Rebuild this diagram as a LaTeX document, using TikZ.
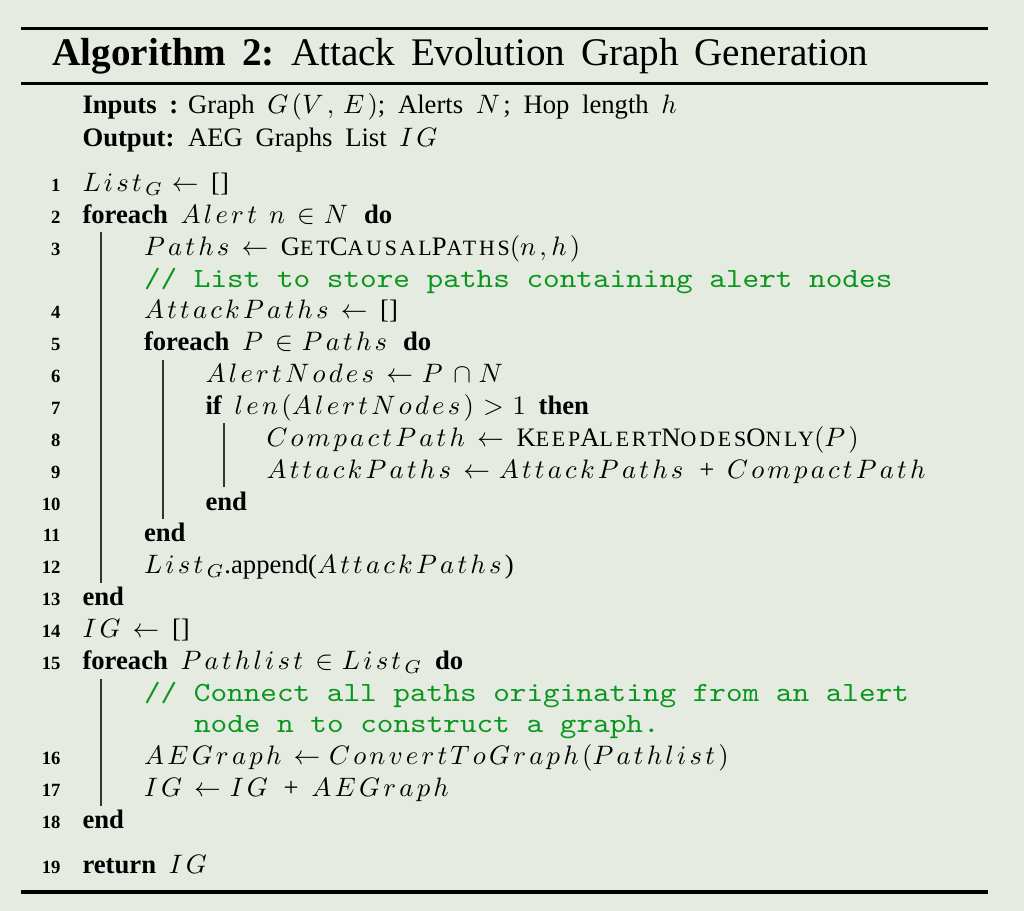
\documentclass[tikz,border=0pt]{standalone}
\usepackage[no-math]{fontspec}
\setmainfont{Liberation Serif}[WordSpace=1.9]
\newfontfamily\ttlfont{Liberation Serif}[WordSpace=1.6]
\newfontfamily\cmtfont{lmmono10-regular.otf}[FakeStretch=1.14]
\newfontfamily\scfont{Liberation Serif}[LetterSpace=13]
\definecolor{bgc}{RGB}{230,235,225}
\definecolor{cgreen}{RGB}{10,150,30}
\newcommand\fsc[1]{{\fontsize{8.2}{9}\selectfont #1}}
\makeatletter
\def\V#1{\V@a#1\@nil}
\def\V@a#1{\ifx#1\@nil\else#1\mkern2.2mu\expandafter\V@a\fi}
\makeatother
\medmuskip=5mu plus 2mu minus 4mu
\thickmuskip=6mu plus 5mu
\begin{document}
\begin{tikzpicture}[x=0.375pt,y=-0.375pt,
  txt/.style={anchor=base west,inner sep=0pt,font=\fontsize{10}{12}\selectfont},
  ttl/.style={anchor=base west,inner sep=0pt,font=\fontsize{14.68}{18}\selectfont\ttlfont},
  num/.style={anchor=base east,inner sep=0pt,font=\fontsize{7}{8}\selectfont\bfseries},
  cmt/.style={anchor=base west,inner sep=0pt,font=\fontsize{10.42}{12}\selectfont\cmtfont,text=cgreen},
  vbar/.style={draw=black!80,line width=0.6pt},
  toprule/.style={draw=black,line width=1.1pt},
  midrule/.style={draw=black,line width=0.8pt},
  botrule/.style={draw=black,line width=1.2pt}]
\fill[bgc] (0,0) rectangle (1024,911);
\useasboundingbox (0,0) rectangle (1024,911);
% rules
\coordinate (tl) at (21,28.5); \coordinate (tr) at (988,28.5);
\coordinate (ml) at (21,83.5); \coordinate (mr) at (988,83.5);
\coordinate (bl) at (21,892); \coordinate (br) at (988,892);
\draw[toprule] (tl) -- (tr);
\draw[midrule] (ml) -- (mr);
\draw[botrule] (bl) -- (br);
% title
\node[ttl] (title) at (52,65) {\textbf{Algorithm 2:}\hspace{-1pt} Attack Evolution Graph Generation};
\node[txt] (inputs) at (82,113.3) {\makebox[39.6pt][l]{\textbf{Inputs :}}Graph $\V{G}(\V{V},\mkern3mu\V{E})$; Alerts $\V{N}$; Hop length $\V{h}$};
\node[txt] (output) at (82,146.7) {\makebox[39.6pt][l]{\textbf{Output:}}AEG Graphs List $\V{IG}$};
% line numbers
\node[num] (n1) at (61,191.5) {1};
\node[num] (n2) at (61,223.35) {2};
\node[num] (n3) at (61,255.2) {3};
\node[num] (n4) at (61,318.9) {4};
\node[num] (n5) at (61,350.75) {5};
\node[num] (n6) at (61,382.6) {6};
\node[num] (n7) at (61,414.45) {7};
\node[num] (n8) at (61,446.3) {8};
\node[num] (n9) at (61,478.15) {9};
\node[num] (n10) at (61,510) {10};
\node[num] (n11) at (61,541.85) {11};
\node[num] (n12) at (61,573.7) {12};
\node[num] (n13) at (61,605.55) {13};
\node[num] (n14) at (61,637.4) {14};
\node[num] (n15) at (61,669.25) {15};
\node[num] (n16) at (61,764.8) {16};
\node[num] (n17) at (61,796.65) {17};
\node[num] (n18) at (61,828.5) {18};
\node[num] (n19) at (61,873.3) {19};
% lines
\node[txt] (l1) at (82,191.5) {$\V{List}_G \leftarrow$ []};
\node[txt] (l2) at (82,223.35) {\textbf{foreach} $\V{Alert}\mkern6mu\V{n} \in \V{N}$ \textbf{do}};
\node[txt] (l3) at (143.5,255.2) {$\V{Paths} \leftarrow$ {\scfont G\fsc{ET}C\fsc{AUSAL}P\fsc{ATHS}}$(\V{n},\V{h})$};
\node[cmt] (c1) at (143.5,287.05) {// List to store paths containing alert nodes};
\node[txt] (l4) at (143.5,318.9) {$\V{AttackPaths} \leftarrow$ []};
\node[txt] (l5) at (143.5,350.75) {\textbf{foreach} $\V{P} \in \V{Paths}$ \textbf{do}};
\node[txt] (l6) at (205,382.6) {$\V{AlertNodes} \leftarrow \V{P} \cap \V{N}$};
\node[txt] (l7) at (205,414.45) {\textbf{if} $\V{len}(\V{AlertNodes}) > 1$ \textbf{then}};
\node[txt] (l8) at (266,446.3) {$\V{CompactPath} \leftarrow$ {\scfont K\fsc{EEP}A\fsc{LERT}N\fsc{ODES}O\fsc{NLY}}$(\V{P})$};
\node[txt] (l9) at (266,478.15) {$\V{AttackPaths} \leftarrow \V{AttackPaths}$ + $\V{CompactPath}$};
\node[txt] (l10) at (205,510) {\textbf{end}};
\node[txt] (l11) at (143.5,541.85) {\textbf{end}};
\node[txt] (l12) at (143.5,573.7) {$\V{List}_G$.append($\V{AttackPaths}$)};
\node[txt] (l13) at (82,605.55) {\textbf{end}};
\node[txt] (l14) at (82,637.4) {$\V{IG} \leftarrow$ []};
\node[txt] (l15) at (82,669.25) {\textbf{foreach} $\V{Pathlist} \in \V{List}_G$ \textbf{do}};
\node[cmt] (c2) at (143.5,701.1) {// Connect all paths originating from an alert};
\node[cmt] (c3) at (193.5,732.95) {node n to construct a graph.};
\node[txt] (l16) at (143.5,764.8) {$\V{AEGraph} \leftarrow \V{ConvertToGraph}(\V{Pathlist})$};
\node[txt] (l17) at (143.5,796.65) {$\V{IG} \leftarrow \V{IG}$ + $\V{AEGraph}$};
\node[txt] (l18) at (82,828.5) {\textbf{end}};
\node[txt] (l19) at (82,873.3) {\textbf{return} $\V{IG}$};
% block bars
\coordinate (b1s) at (101,231.7); \coordinate (b1e) at (101,582.7);
\coordinate (b2s) at (163,360); \coordinate (b2e) at (163,519);
\coordinate (b3s) at (224,423); \coordinate (b3e) at (224,487);
\coordinate (b4s) at (101,679); \coordinate (b4e) at (101,806);
\draw[vbar] (b1s) -- (b1e);
\draw[vbar] (b2s) -- (b2e);
\draw[vbar] (b3s) -- (b3e);
\draw[vbar] (b4s) -- (b4e);
\end{tikzpicture}
\end{document}
